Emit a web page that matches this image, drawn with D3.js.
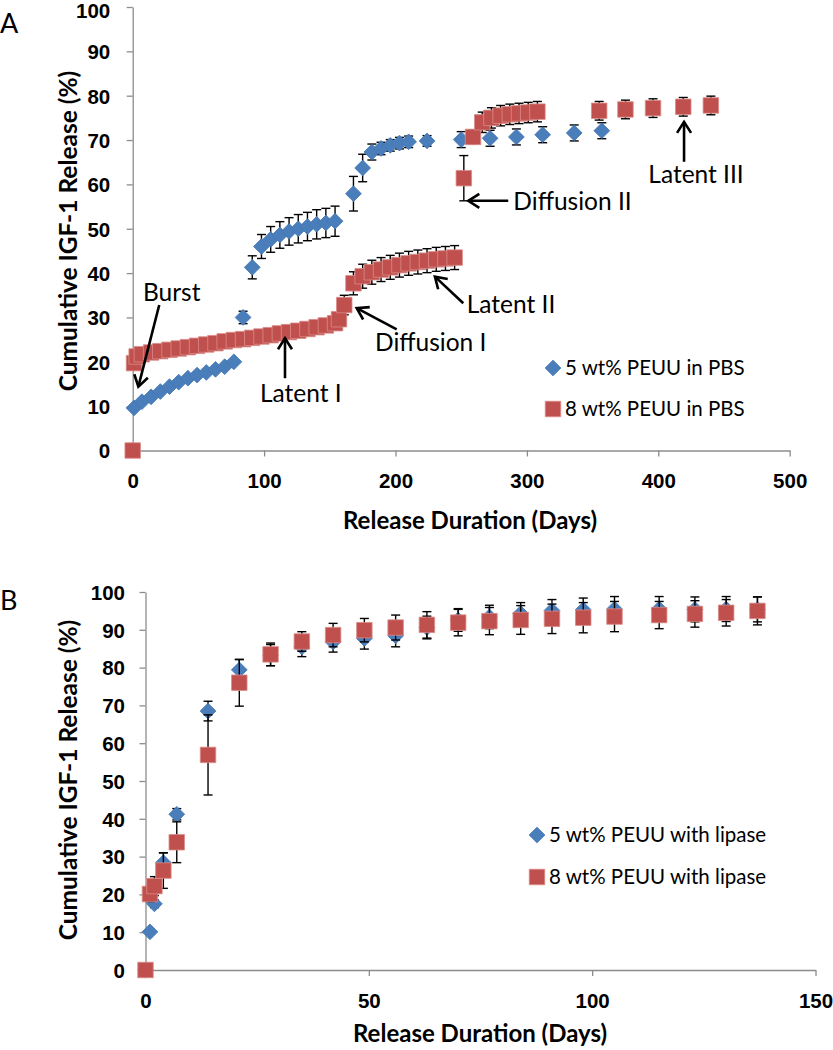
<!DOCTYPE html>
<html>
<head>
<meta charset="utf-8">
<script src="https://cdn.jsdelivr.net/npm/d3@7"></script>
<style>
  body { margin: 0; background: #fff; }
  svg { display: block; font-family: Lato, "Open Sans", sans-serif; }
</style>
</head>
<body>
<svg id="chart" width="833" height="1050"></svg>
<script>
// Panel A: release in PBS
const daysA5 = [1, 7, 14, 21, 28, 35, 42, 49, 56, 63, 70, 77, 84, 91, 98, 105, 112, 119, 126, 133, 140, 147, 154,
  168, 175, 182, 189, 196, 203, 210, 224, 250, 272, 292, 312, 336, 357];
const valsA5 = [9.6, 11.0, 12.1, 13.3, 14.4, 15.4, 16.3, 17.0, 17.6, 18.3, 18.9, 20.0, 30.0, 41.3, 46.0, 47.6, 48.6, 49.4, 50.0, 50.5, 51.0, 51.3, 51.7,
  57.9, 63.7, 67.3, 68.1, 68.8, 69.3, 69.6, 69.8, 70.1, 70.4, 70.7, 71.2, 71.6, 72.1];
const errA5 = [0.4, 0.4, 0.4, 0.4, 0.4, 0.4, 0.4, 0.4, 0.4, 0.4, 0.4, 0.5, 1.4, 2.6, 2.7, 2.9, 3.0, 3.1, 3.2, 3.2, 3.3, 3.3, 3.4,
  3.9, 3.1, 1.8, 1.4, 1.3, 1.3, 1.3, 1.2, 1.8, 1.8, 1.8, 1.8, 1.8, 1.8];

const daysA8 = [0, 1, 3, 7, 14, 21, 28, 35, 42, 49, 56, 63, 70, 77, 84, 91, 98, 105, 112, 119, 126, 133, 140, 147, 154, 157,
  161, 168, 175, 182, 189, 196, 203, 210, 217, 224, 231, 238, 245,
  252, 259, 266, 273, 280, 287, 294, 301, 308, 355, 375, 396, 419, 440];
const valsA8 = [0, 19.7, 21.2, 21.7, 22.1, 22.4, 22.7, 23.0, 23.3, 23.6, 23.9, 24.2, 24.6, 24.9, 25.1, 25.4, 25.7, 26.0, 26.4, 26.7, 27.0, 27.4, 27.8, 28.2, 28.7, 29.6,
  32.8, 37.7, 39.3, 40.2, 40.8, 41.3, 41.8, 42.2, 42.5, 42.8, 43.1, 43.3, 43.5,
  61.4, 70.7, 74.0, 75.0, 75.5, 75.8, 76.0, 76.2, 76.4, 76.6, 76.9, 77.2, 77.5, 77.8];
const errA8 = [0, 0.5, 0.5, 0.5, 0.5, 0.5, 0.5, 0.5, 0.5, 0.5, 0.5, 0.5, 0.5, 0.5, 0.5, 0.5, 0.5, 0.5, 0.5, 0.5, 0.5, 0.5, 0.5, 0.5, 0.5, 0.5,
  2.2, 2.6, 2.7, 2.7, 2.7, 2.7, 2.7, 2.7, 2.7, 2.7, 2.7, 2.7, 2.7,
  5.1, 1.5, 2.3, 2.3, 2.3, 2.3, 2.3, 2.3, 2.3, 2.1, 2.1, 2.1, 2.1, 2.1];

// Panel B: release with lipase
const daysB = [0, 1, 2, 4, 7, 14, 21, 28, 35, 42, 49, 56, 63, 70, 77, 84, 91, 98, 105, 115, 123, 130, 137];
const valsB5 = [0, 10.1, 17.5, 28.4, 41.2, 68.5, 79.4, 83.3, 85.5, 86.8, 87.7, 88.4, 90.6, 92.6, 93.4, 94.3, 95.1, 95.3, 95.5, 95.5, 95.4, 95.5, 95.4];
const errB5 = [0, 0.5, 1.0, 2.6, 1.5, 2.6, 2.7, 2.8, 2.6, 2.7, 2.8, 2.9, 3.0, 3.0, 3.1, 2.9, 2.9, 3.1, 3.3, 3.3, 3.3, 3.3, 3.3];
const valsB8 = [0, 20.1, 22.2, 26.3, 33.8, 56.9, 76.0, 83.5, 86.9, 88.6, 89.9, 90.6, 91.3, 91.9, 92.3, 92.6, 92.9, 93.2, 93.5, 93.9, 94.2, 94.5, 95.0];
const errB8 = [0, 2.0, 2.5, 4.7, 5.4, 10.6, 6.2, 3.0, 2.6, 3.1, 3.1, 3.3, 3.5, 3.5, 3.6, 3.8, 3.9, 4.0, 4.0, 3.6, 3.5, 3.5, 3.7];

const ticksA = [0, 100, 200, 300, 400, 500];
const ticksB = [0, 50, 100, 150];
const ticksY = [0, 10, 20, 30, 40, 50, 60, 70, 80, 90, 100];

const legendA = ['5 wt% PEUU in PBS', '8 wt% PEUU in PBS'];
const legendB = ['5 wt% PEUU with lipase', '8 wt% PEUU with lipase'];

// annotation text and arrow, in data units (day, %)
const notesA = [
  { text: 'Burst', tx: 7.8, ty: 33.7, from: [20.2, 32.8], to: [4.3, 14.4] },
  { text: 'Latent I', tx: 96.9, ty: 11.0, from: [115.9, 16.3], to: [115.9, 25.3] },
  { text: 'Diffusion I', tx: 184.4, ty: 22.4, from: [200.9, 27.3], to: [170.5, 32.1] },
  { text: 'Latent II', tx: 254.2, ty: 31.0, from: [251.6, 33.2], to: [230.0, 39.2] },
  { text: 'Diffusion II', tx: 289.7, ty: 54.2, from: [285.8, 56.3], to: [255.4, 56.3] },
  { text: 'Latent III', tx: 392.4, ty: 60.4, from: [419.6, 65.1], to: [419.6, 74.1] }
];

const blue = '#4A7EBB';
const red = '#C0504D';
const axisGrey = '#8C8C8C';

const svg = d3.select('#chart');
svg.append('rect').attr('width', 833).attr('height', 1050).attr('fill', '#fff');

svg.append('defs').append('marker')
  .attr('id', 'head')
  .attr('markerUnits', 'userSpaceOnUse')
  .attr('viewBox', '-14 -10 18 20')
  .attr('markerWidth', 18).attr('markerHeight', 20)
  .attr('refX', 0).attr('refY', 0)
  .attr('orient', 'auto')
  .append('path')
  .attr('d', 'M-11,-7 L0,0 L-11,7')
  .attr('fill', 'none').attr('stroke', '#000').attr('stroke-width', 2.6);

function drawPanel(p) {
  const g = svg.append('g');
  const x = d3.scaleLinear().domain(p.xDomain).range(p.xRange);
  const y = d3.scaleLinear().domain([0, 100]).range(p.yRange);

  const yAxis = d3.axisLeft(y).tickValues(ticksY).tickSize(6).tickSizeOuter(0).tickPadding(p.yPad);
  const xAxis = d3.axisBottom(x).tickValues(p.xTicks).tickSize(6).tickSizeOuter(0);

  const gy = g.append('g').attr('transform', `translate(${p.xRange[0]},0)`).call(yAxis);
  const gx = g.append('g').attr('transform', `translate(0,${p.yRange[0]})`).call(xAxis);
  [gx, gy].forEach((a) => {
    a.selectAll('path, line').attr('stroke', axisGrey).attr('stroke-width', 1.3);
    a.selectAll('text').attr('fill', '#000').attr('font-size', 20.5).attr('font-weight', 'bold');
  });
  // keep the top label inside the page
  gy.selectAll('text').attr('dy', (d) => (d === 100 && p.yRange[1] < 14 ? '0.52em' : '0.36em'));
  gx.selectAll('text').attr('y', p.xLabOff).attr('dy', '0.36em');

  // axis titles
  g.append('text')
    .attr('x', p.xTitle[0]).attr('y', p.xTitle[1])
    .attr('text-anchor', 'middle').attr('font-size', 24).attr('font-weight', 'bold')
    .text('Release Duration (Days)');
  g.append('text')
    .attr('transform', `translate(${p.yTitle[0]},${p.yTitle[1]}) rotate(-90)`)
    .attr('text-anchor', 'middle').attr('font-size', 24.5).attr('font-weight', 'bold')
    .text('Cumulative IGF-1 Release (%)');
  g.append('text').attr('x', 0).attr('y', p.letterY).attr('font-size', 27).text(p.letter);

  const series = p.series.map((s) => ({
    ...s,
    pts: s.days.map((d, i) => ({ d, v: s.vals[i], e: s.err[i] }))
  }));

  const diamond = d3.symbol(d3.symbolSquare).size(124);
  const square = d3.symbol(d3.symbolSquare).size(240);

  series.forEach((s) => {
    const eb = g.append('g').attr('stroke', '#000').attr('stroke-width', 1.4);
    s.pts.filter((q) => q.e > 0).forEach((q) => {
      const cx = x(q.d), y1 = y(q.v + q.e), y2 = y(q.v - q.e);
      eb.append('line').attr('x1', cx).attr('x2', cx).attr('y1', y1).attr('y2', y2);
      eb.append('line').attr('x1', cx - 4.5).attr('x2', cx + 4.5).attr('y1', y1).attr('y2', y1);
      eb.append('line').attr('x1', cx - 4.5).attr('x2', cx + 4.5).attr('y1', y2).attr('y2', y2);
    });
    g.append('g').selectAll('path')
      .data(s.pts)
      .enter()
      .append('path')
      .attr('d', s.shape === 'diamond' ? diamond : square)
      .attr('transform', (q) => `translate(${x(q.d)},${y(q.v)})` + (s.shape === 'diamond' ? ' rotate(45)' : ''))
      .attr('fill', s.color)
      .attr('stroke', s.shape === 'diamond' ? '#4577B3' : '#DB8B89')
      .attr('stroke-width', 0.8);
  });

  // legend
  const lg = g.append('g');
  p.legend.forEach((label, i) => {
    const ly = p.legendY[i];
    const s = series[i];
    lg.append('path')
      .attr('d', s.shape === 'diamond' ? diamond : square)
      .attr('transform', `translate(${p.legendX},${ly})` + (s.shape === 'diamond' ? ' rotate(45)' : ''))
      .attr('fill', s.color)
      .attr('stroke', s.shape === 'diamond' ? '#4577B3' : '#DB8B89')
      .attr('stroke-width', 0.8);
    lg.append('text')
      .attr('x', p.legendX + 12).attr('y', ly).attr('dy', '0.36em')
      .attr('font-size', 20.5).text(label);
  });

  // annotations
  (p.notes || []).forEach((n) => {
    g.append('line')
      .attr('x1', x(n.from[0])).attr('y1', y(n.from[1]))
      .attr('x2', x(n.to[0])).attr('y2', y(n.to[1]))
      .attr('stroke', '#000').attr('stroke-width', 2.6)
      .attr('marker-end', 'url(#head)');
    g.append('text').attr('x', x(n.tx)).attr('y', y(n.ty)).attr('font-size', 24.5).text(n.text);
  });
}

drawPanel({
  letter: 'A', letterY: 33,
  xDomain: [0, 500], xRange: [132.7, 789.7], yRange: [450.5, 7],
  xTicks: ticksA, yPad: 16.5, xLabOff: 30.5,
  xTitle: [470, 528.5], yTitle: [77, 231],
  legend: legendA, legendX: 553, legendY: [368, 409],
  series: [
    { days: daysA5, vals: valsA5, err: errA5, color: blue, shape: 'diamond' },
    { days: daysA8, vals: valsA8, err: errA8, color: red, shape: 'square' }
  ],
  notes: notesA
});

drawPanel({
  letter: 'B', letterY: 610,
  xDomain: [0, 150], xRange: [145.5, 815.5], yRange: [970, 592],
  xTicks: ticksB, yPad: 14.5, xLabOff: 31,
  xTitle: [480, 1041.5], yTitle: [77, 780],
  legend: legendB, legendX: 537, legendY: [835, 877],
  series: [
    { days: daysB, vals: valsB5, err: errB5, color: blue, shape: 'diamond' },
    { days: daysB, vals: valsB8, err: errB8, color: red, shape: 'square' }
  ]
});
</script>
</body>
</html>
